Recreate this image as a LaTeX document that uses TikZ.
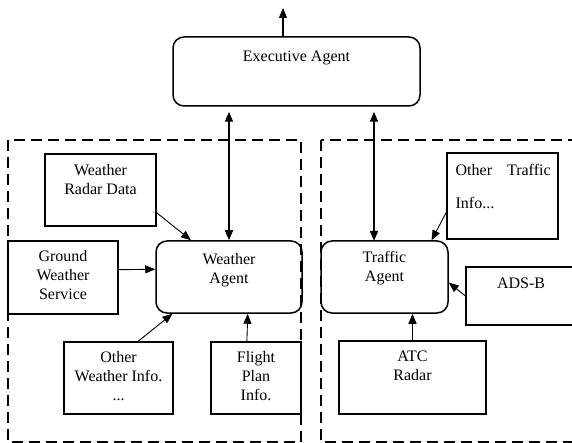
\documentclass[tikz,border=0pt]{standalone}
\usepackage{fontspec}
\setmainfont{Liberation Serif}
\usetikzlibrary{arrows.meta}

\begin{document}
\begin{tikzpicture}[x=1pt,y=-1pt,
		font=\fontsize{16}{19}\selectfont,
		box/.style={draw, line width=1.1pt, inner sep=0pt},
		agent/.style={draw, line width=1.5pt, rounded corners=11pt, inner sep=0pt},
		txt/.style={anchor=north, align=center, inner sep=0pt, yshift=-11pt},
		feed/.style={-{Triangle[length=10pt,width=8pt]}, line width=0.9pt},
		link/.style={{Triangle[length=10pt,width=8pt]}-{Triangle[length=10pt,width=8pt]}, line width=1.4pt},
		group/.style={draw, dash pattern=on 11pt off 6pt, line width=1.2pt}]
			\useasboundingbox (0,0) rectangle (572,443);
			\draw [group] (8,140) rectangle (301,442);
			\draw [group] (321,140) rectangle (590,442);

			\node [agent, minimum width=247pt, minimum height=69pt, label={[txt, yshift=-3pt]north:Executive Agent}] (exec) at (296.5,71.5) {};
			\node [agent, minimum width=146pt, minimum height=72pt, label={[txt, yshift=-2pt]north:{Weather\\Agent}}] (wx) at (229,277) {};
			\node [agent, minimum width=127pt, minimum height=72pt, label={[txt]north:{Traffic\\Agent}}] (tx) at (384.5,277) {};

			\node [box, minimum width=111pt, minimum height=72pt, label={[txt]north:{Weather\\Radar Data}}] (radar) at (100.5,190) {};
			\node [box, minimum width=110pt, minimum height=73pt, label={[txt, yshift=1pt]north:{Ground\\Weather\\Service}}] (ground) at (63,277.5) {};
			\node [box, minimum width=109pt, minimum height=72pt, label={[txt, yshift=1pt]north:{Other\\Weather Info.\\...}}] (otherwx) at (118.5,378) {};
			\node [box, minimum width=90pt, minimum height=72pt, label={[txt, yshift=1pt]north:{Flight\\Plan\\Info.}}] (flight) at (256,378) {};
			\node [box, minimum width=111pt, minimum height=86pt, label={[txt, anchor=north west, align=left, xshift=9pt, yshift=-1pt]north west:{Other\hspace{11pt} Traffic\\[14pt]Info...}}] (othertx) at (502.5,196) {};
			\node [box, minimum width=110pt, minimum height=58pt, label={[txt]north:ADS-B}] (adsb) at (521,296) {};
			\node [box, minimum width=147pt, minimum height=73pt, label={[txt, yshift=1pt]north:{ATC\\Radar}}] (atc) at (412.5,377.5) {};

			\coordinate (out) at (283,8);
			\coordinate (tlink) at (374,241);
			\draw [feed, line width=1.2pt] (exec.north -| out) -- (out);
			\draw [link, shorten <=5pt] (exec.south -| wx.north) -- (wx.north);
			\draw [link, shorten <=5pt] (exec.south -| tlink) -- (tlink);

			\draw [feed] (radar.-22) -- (wx.136);
			\draw [feed] (ground.8) -- (wx.174);
			\draw [feed] (otherwx.62) -- (wx.-147);
			\draw [feed] (flight.104) -- (wx.-63.4);
			\draw [feed] (othertx.196) -- (tx.38);
			\draw [feed] (adsb.west) -- (tx.-5);
			\draw [feed] (atc.north) -- (atc.north |- tx.south);
\end{tikzpicture}
\end{document}
